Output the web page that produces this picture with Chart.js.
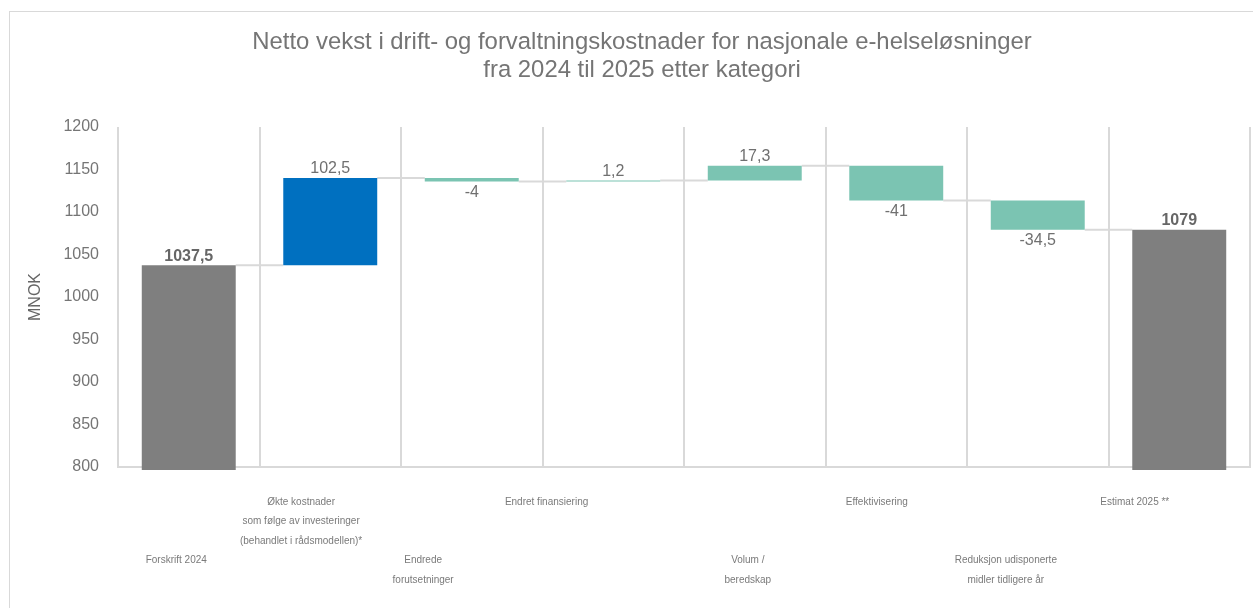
<!DOCTYPE html>
<html><head><meta charset="utf-8">
<script src="https://cdn.jsdelivr.net/npm/chart.js@4"></script>
<style>
html,body{margin:0;padding:0;background:#fff;overflow:hidden;width:1253px;height:608px;}
#frame{position:absolute;left:9px;top:11px;width:1264px;height:620px;border:1px solid #d9d9d9;}
#wrap{position:relative;width:1264px;height:620px;}
</style></head><body>
<div id="frame"><div id="wrap"><canvas id="c"></canvas></div></div>
<script>
// ---------- data ----------
const categories = [
  ['Forskrift 2024'],
  ['Økte kostnader', 'som følge av investeringer', '(behandlet i rådsmodellen)*'],
  ['Endrede', 'forutsetninger'],
  ['Endret finansiering'],
  ['Volum /', 'beredskap'],
  ['Effektivisering'],
  ['Reduksjon udisponerte', 'midler tidligere år'],
  ['Estimat 2025 **']
];
const startTotal = 1037.5;
const changes = [102.5, -4, 1.2, 17.3, -41, -34.5];
const endTotal = 1079;
const yMin = 800, yMax = 1200, yStep = 50;
const titleLines = ['Netto vekst i drift- og forvaltningskostnader for nasjonale e-helseløsninger',
                    'fra 2024 til 2025 etter kategori'];
const yAxisTitle = 'MNOK';

// ---------- derived waterfall ----------
const floating = [[0, startTotal]];
const levels = [startTotal];
const labelValues = [startTotal];
const isTotal = [true];
let running = startTotal;
changes.forEach(c => {
  floating.push([running, running + c]);
  running += c;
  levels.push(running);
  labelValues.push(c);
  isTotal.push(false);
});
floating.push([0, endTotal]);
levels.push(endTotal);
labelValues.push(endTotal);
isTotal.push(true);

const GRAY = '#7f7f7f', BLUE = '#0070c0', TEAL = '#7bc4b2';
const barColors = floating.map((d, i) => isTotal[i] ? GRAY : (i === 1 ? BLUE : TEAL));
const fmt = v => String(v).replace('.', ',');

const FONT = '"Liberation Sans", Arial, Helvetica, sans-serif';
Chart.defaults.font.family = FONT;

// horizontal label nudges (layout only), in px
const labelShift = [-12, -29, -48, -66, -7, -19, -32, -44];
const mctx = document.createElement('canvas').getContext('2d');
mctx.font = '10px ' + FONT;
const spaceW = mctx.measureText(' ').width || 2.78;
function tickLines(i) {
  const n = Math.max(0, Math.round(-2 * labelShift[i] / spaceW));
  const pad = ' '.repeat(n);
  const lines = categories[i].map(l => l + pad);
  return (i % 2 === 0) ? ['', '', ''].concat(lines) : lines;
}

const connectors = {
  id: 'connectors',
  beforeDatasetsDraw(chart) {
    const meta = chart.getDatasetMeta(0);
    const ys = chart.scales.y;
    const ctx = chart.ctx;
    ctx.save();
    ctx.strokeStyle = '#d9d9d9';
    ctx.lineWidth = 2;
    for (let i = 0; i < meta.data.length - 1; i++) {
      const a = meta.data[i], b = meta.data[i + 1];
      const y = ys.getPixelForValue(levels[i]);
      ctx.beginPath();
      ctx.moveTo(a.x + a.width / 2, y);
      ctx.lineTo(b.x - b.width / 2, y);
      ctx.stroke();
    }
    ctx.restore();
  }
};

const valueLabels = {
  id: 'valueLabels',
  afterDatasetsDraw(chart) {
    const meta = chart.getDatasetMeta(0);
    const ctx = chart.ctx;
    ctx.save();
    ctx.textAlign = 'center';
    meta.data.forEach((bar, i) => {
      const top = Math.min(bar.y, bar.base);
      const bottom = Math.max(bar.y, bar.base);
      const v = labelValues[i];
      if (isTotal[i]) {
        ctx.font = 'bold 16px ' + FONT;
        ctx.fillStyle = '#666666';
        ctx.textBaseline = 'bottom';
        ctx.fillText(fmt(v), bar.x, top - 1);
      } else {
        ctx.font = '16px ' + FONT;
        ctx.fillStyle = '#707070';
        if (v >= 0) {
          ctx.textBaseline = 'bottom';
          ctx.fillText(fmt(v), bar.x, top - 1);
        } else {
          ctx.textBaseline = 'top';
          ctx.fillText(fmt(v), bar.x, bottom + 3);
        }
      }
    });
    ctx.restore();
  }
};

new Chart(document.getElementById('c'), {
  type: 'bar',
  data: {
    labels: categories,
    datasets: [{
      data: floating,
      backgroundColor: barColors,
      borderWidth: 0,
      categoryPercentage: 1,
      barPercentage: 0.664,
      clip: {left: 0, top: 0, right: 0, bottom: 3}
    }]
  },
  options: {
    responsive: true,
    maintainAspectRatio: false,
    animation: false,
    layout: {padding: {left: 24, right: 24, top: 0, bottom: 17.5}},
    plugins: {
      legend: {display: false},
      tooltip: {enabled: false},
      title: {
        display: true,
        text: titleLines,
        color: '#757575',
        font: {size: 23.9, weight: 'normal', lineHeight: '28px'},
        padding: {top: 16, bottom: 43}
      }
    },
    scales: {
      x: {
        z: 1,
        grid: {color: '#d9d9d9', lineWidth: 2, drawTicks: false, offset: true},
        border: {color: '#d9d9d9', width: 2},
        ticks: {
          autoSkip: false, maxRotation: 0, minRotation: 0, padding: 25,
          color: '#7a7a7a',
          font: {size: 10, lineHeight: '19.5px'},
          callback: (value, index) => tickLines(index)
        },
        afterFit: s => { s.paddingLeft = 0; s.paddingRight = 0; }
      },
      y: {
        min: yMin, max: yMax,
        grid: {display: false},
        border: {display: false},
        ticks: {stepSize: yStep, padding: 11, color: '#757575', font: {size: 16},
                callback: v => String(v)},
        title: {display: true, text: yAxisTitle, color: '#666666', font: {size: 16}, padding: {top: -8.4, bottom: 0}},
        afterFit: s => { s.width = 84; }
      }
    }
  },
  plugins: [connectors, valueLabels]
});
</script>
</body></html>
